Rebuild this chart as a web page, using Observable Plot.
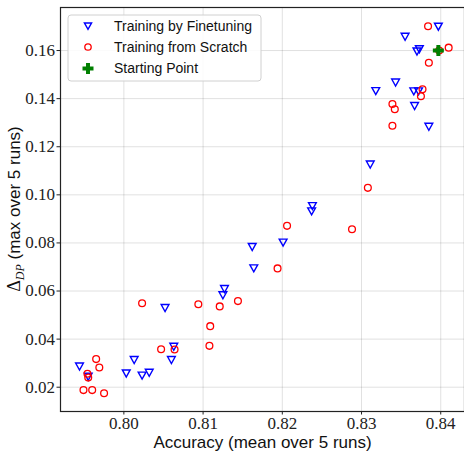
<!DOCTYPE html>
<html>
<head>
<meta charset="utf-8">
<script src="https://cdn.jsdelivr.net/npm/d3@7"></script>
<script src="https://cdn.jsdelivr.net/npm/@observablehq/plot@0.6"></script>
<style>
  html, body { margin: 0; padding: 0; background: #fff; }
  #chart { position: relative; width: 464px; height: 454px; }
</style>
</head>
<body>
<div id="chart"></div>
<script>
// ---- data ----
const finetuneAcc = [0.8397, 0.8355, 0.8370, 0.8373, 0.8343, 0.8318, 0.8366, 0.8372, 0.8367, 0.8385,
                     0.8311, 0.8238, 0.8237, 0.8201, 0.8162, 0.8164, 0.8127, 0.8125, 0.8052, 0.8063,
                     0.8060, 0.8013, 0.8003, 0.8023, 0.8032, 0.7944, 0.7955];
const finetuneDP  = [0.1700, 0.1658, 0.1597, 0.1606, 0.1468, 0.1432, 0.1431, 0.1431, 0.1370, 0.1284,
                     0.1127, 0.0954, 0.0932, 0.0802, 0.0784, 0.0695, 0.0609, 0.0583, 0.0530, 0.0369,
                     0.0314, 0.0314, 0.0258, 0.0249, 0.0261, 0.0287, 0.0244];
const scratchAcc  = [0.8384, 0.8410, 0.8398, 0.8385, 0.8377, 0.8375, 0.8339, 0.8342, 0.8339, 0.8308,
                     0.8288, 0.8206, 0.8194, 0.8144, 0.8094, 0.8121, 0.8023, 0.8109, 0.8108, 0.8047,
                     0.8064, 0.7965, 0.7969, 0.7954, 0.7955, 0.7949, 0.7960, 0.7975];
const scratchDP   = [0.1701, 0.1612, 0.1600, 0.1549, 0.1439, 0.1410, 0.1378, 0.1356, 0.1287, 0.1029,
                     0.0857, 0.0871, 0.0694, 0.0558, 0.0545, 0.0536, 0.0549, 0.0454, 0.0372, 0.0358,
                     0.0357, 0.0317, 0.0282, 0.0256, 0.0240, 0.0188, 0.0188, 0.0175];
const startAcc = [0.8397];
const startDP  = [0.1600];
const xTicks = [0.80, 0.81, 0.82, 0.83, 0.84];
const yTicks = [0.02, 0.04, 0.06, 0.08, 0.10, 0.12, 0.14, 0.16];
const seriesNames = ["Training by Finetuning", "Training from Scratch", "Starting Point"];
const xLabel = "Accuracy (mean over 5 runs)";
const yLabelRest = " (max over 5 runs)";

const finetune = finetuneAcc.map((a, i) => ({acc: a, dp: finetuneDP[i]}));
const scratch = scratchAcc.map((a, i) => ({acc: a, dp: scratchDP[i]}));
const start = startAcc.map((a, i) => ({acc: a, dp: startDP[i]}));

// custom symbols
const triDown = {
  draw(ctx, size) {
    const r = Math.sqrt(size / Math.PI);
    ctx.moveTo(-r, -r * 0.85);
    ctx.lineTo(r, -r * 0.85);
    ctx.lineTo(0, r * 0.95);
    ctx.closePath();
  }
};
const filledPlus = {
  draw(ctx, size) {
    const r = Math.sqrt(size / Math.PI);
    const w = r * 0.36;
    ctx.moveTo(-w, -r); ctx.lineTo(w, -r); ctx.lineTo(w, -w); ctx.lineTo(r, -w);
    ctx.lineTo(r, w); ctx.lineTo(w, w); ctx.lineTo(w, r); ctx.lineTo(-w, r);
    ctx.lineTo(-w, w); ctx.lineTo(-r, w); ctx.lineTo(-r, -w); ctx.lineTo(-w, -w);
    ctx.closePath();
  }
};

const serif = "'Liberation Serif', 'DejaVu Serif', serif";
const sans = "'Liberation Sans', Arial, sans-serif";

const plot = Plot.plot({
  width: 464,
  height: 454,
  marginLeft: 60,
  marginTop: 7,
  marginRight: 0,
  marginBottom: 43,
  style: {background: "#fff", color: "#222"},
  x: {domain: [0.792, 0.843]},
  y: {domain: [0.0099, 0.1779]},
  marks: [
    Plot.gridX(xTicks, {stroke: "#000", strokeOpacity: 0.12, strokeWidth: 1}),
    Plot.gridY(yTicks, {stroke: "#000", strokeOpacity: 0.12, strokeWidth: 1}),
    Plot.axisX(xTicks, {tickFormat: d3.format(".2f"), tickSize: 3.5, tickPadding: 2,
      fontFamily: serif, fontSize: 17, label: null, stroke: "#222"}),
    Plot.axisY(yTicks, {tickFormat: d3.format(".2f"), tickSize: 3.5, tickPadding: 2,
      fontFamily: serif, fontSize: 17, label: null, stroke: "#222"}),
    Plot.frame({stroke: "#222", strokeWidth: 1.2}),
    Plot.dot(finetune, {x: "acc", y: "dp", symbol: triDown, r: 3.9, stroke: "#0000ff", strokeWidth: 1.4, fill: "none"}),
    Plot.dot(scratch, {x: "acc", y: "dp", symbol: "circle", r: 3.4, stroke: "#ff0000", strokeWidth: 1.3, fill: "none"}),
    Plot.dot(start, {x: "acc", y: "dp", symbol: filledPlus, r: 5.5, fill: "#008000", stroke: "none"}),
    Plot.text([xLabel], {frameAnchor: "bottom", dy: 36, fontFamily: sans, fontSize: 17, fill: "#111", lineAnchor: "bottom"})
  ]
});

document.getElementById("chart").appendChild(plot);

// y-axis label with subscript
const svg = d3.select(plot);
const yl = svg.append("text")
  .attr("transform", "translate(20,209) rotate(-90)")
  .attr("text-anchor", "middle")
  .attr("fill", "#111");
yl.append("tspan").attr("font-family", serif).attr("font-size", 18).text("Δ");
yl.append("tspan").attr("font-family", serif).attr("font-style", "italic").attr("font-size", 12).attr("dy", 4).text("DP");
yl.append("tspan").attr("font-family", sans).attr("font-size", 17).attr("dy", -4).text(yLabelRest);

// legend
const lg = svg.append("g");
lg.append("rect").attr("x", 68).attr("y", 15).attr("width", 193).attr("height", 66)
  .attr("rx", 3).attr("fill", "#fff").attr("fill-opacity", 0.85).attr("stroke", "#d0d0d0").attr("stroke-width", 1);
const rows = [26, 47, 68.5];
const symPath = (sym, r) => { const p = d3.path(); sym.draw(p, Math.PI * r * r); return p.toString(); };
lg.append("path").attr("transform", `translate(88,${rows[0]})`).attr("d", symPath(triDown, 3.6))
  .attr("fill", "none").attr("stroke", "#0000ff").attr("stroke-width", 1.4);
lg.append("circle").attr("cx", 88).attr("cy", rows[1]).attr("r", 3.2)
  .attr("fill", "none").attr("stroke", "#ff0000").attr("stroke-width", 1.3);
lg.append("path").attr("transform", `translate(88,${rows[2]})`).attr("d", symPath(filledPlus, 5.5))
  .attr("fill", "#008000");
seriesNames.forEach((n, i) => {
  lg.append("text").attr("x", 114).attr("y", rows[i]).attr("dy", "0.35em")
    .attr("text-anchor", "start")
    .attr("font-family", sans).attr("font-size", 14).attr("fill", "#111").text(n);
});
</script>
</body>
</html>
